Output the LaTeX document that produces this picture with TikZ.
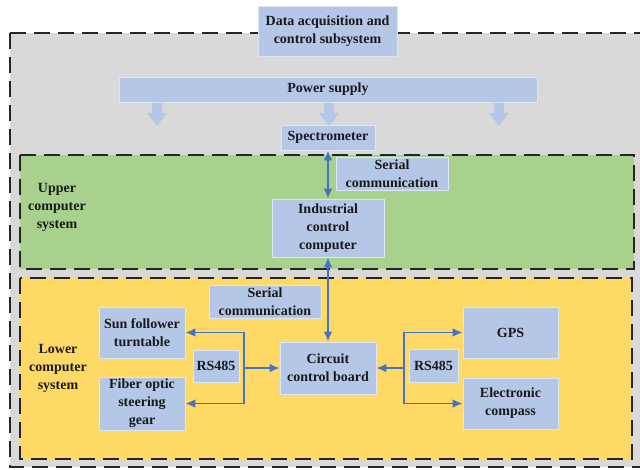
\documentclass[tikz,border=0pt]{standalone}
\usepackage{fontspec}
\setmainfont{Liberation Serif}
\usetikzlibrary{arrows.meta}

\definecolor{boxblue}{HTML}{B4C7E7}
\definecolor{panelgray}{HTML}{D9D9D9}
\definecolor{panelgreen}{HTML}{A9D18E}
\definecolor{panelyellow}{HTML}{FFD966}
\definecolor{linkblue}{HTML}{4472C4}

% a labelled block given by its corners (in pixel units)
\newcommand\placebox[6]{%
  \node[box, minimum width={(#4-#2)*0.75pt}, minimum height={(#5-#3)*0.75pt}]
    (#1) at ({(#2+#4)/2},{(#3+#5)/2}) {#6};}

\begin{document}
\begin{tikzpicture}[x=0.75pt,y=-0.75pt,
  txt/.style={font=\bfseries\fontsize{10.5}{13.5}\selectfont, align=center, text=black!90},
  box/.style={txt, draw=white!55!boxblue, line width=0.6pt, fill=boxblue, inner sep=0pt},
  panel/.style={draw=black!85, line width=1.5pt, dash pattern=on 12pt off 6pt},
  link/.style={draw=linkblue, line width=1.4pt, -{Latex[length=7.5pt,width=6.5pt]}},
  dlink/.style={link, {Latex[length=7.5pt,width=6.5pt]}-{Latex[length=7.5pt,width=6.5pt]}}
]
\useasboundingbox (0,0) rectangle (640,469);
\clip (0,0) rectangle (640,469);
\fill[white] (0,0) rectangle (640,469);

% nested subsystem panels
\draw[panel, fill=panelgray] (10,33) rectangle (652,467);
\draw[panel, fill=panelgreen] (20,155) rectangle (634,269);
\draw[panel, fill=panelyellow] (20,278) rectangle (632,459);

% power distribution arrows
\foreach \c in {157,329,499}{
  \fill[boxblue] ({\c-5},100) -- ({\c-5},113) -- ({\c-10},113) -- (\c,126)
    -- ({\c+10},113) -- ({\c+5},113) -- ({\c+5},100) -- cycle;
}

% blocks
\placebox{title}{258}{6}{397}{56}{Data acquisition and\\control subsystem}
\placebox{power}{119}{77}{537}{102}{Power supply}
\placebox{spec}{281}{125}{375}{150}{Spectrometer}
\placebox{serialup}{336}{157}{448}{190}{Serial\\communication}
\placebox{icc}{272}{199}{384}{257}{Industrial\\control\\computer}
\placebox{seriallow}{209}{285}{321}{318}{Serial\\communication}
\placebox{sun}{99}{307}{185}{358}{Sun follower\\turntable}
\placebox{fiber}{99}{377}{185}{430}{Fiber optic\\steering\\gear}
\placebox{rsl}{193}{350}{239}{382}{RS485}
\placebox{board}{280}{342}{376}{394}{Circuit\\control board}
\placebox{rsr}{409}{349}{458}{382}{RS485}
\placebox{gps}{463}{307}{558}{358}{GPS}
\placebox{compass}{463}{378}{558}{429}{Electronic\\compass}

% panel captions
\node[txt] (upperlabel) at (57,207) {Upper\\computer\\system};
\node[txt] (lowerlabel) at (58,368) {Lower\\computer\\system};

% serial links
\draw[dlink] (spec.south) -- (icc.north);
\draw[dlink] (icc.south) -- (board.north);

% RS485 buses
\coordinate (jl) at (244,368);
\coordinate (jr) at (404,368);
\draw[link] (jl) -- (board.west);
\draw[link] (jl) |- (sun.east);
\draw[link] (jl) |- (fiber.east);
\draw[link] (jr) -- (board.east);
\draw[link] (jr) |- (gps.west);
\draw[link] (jr) |- (compass.west);
\end{tikzpicture}
\end{document}
